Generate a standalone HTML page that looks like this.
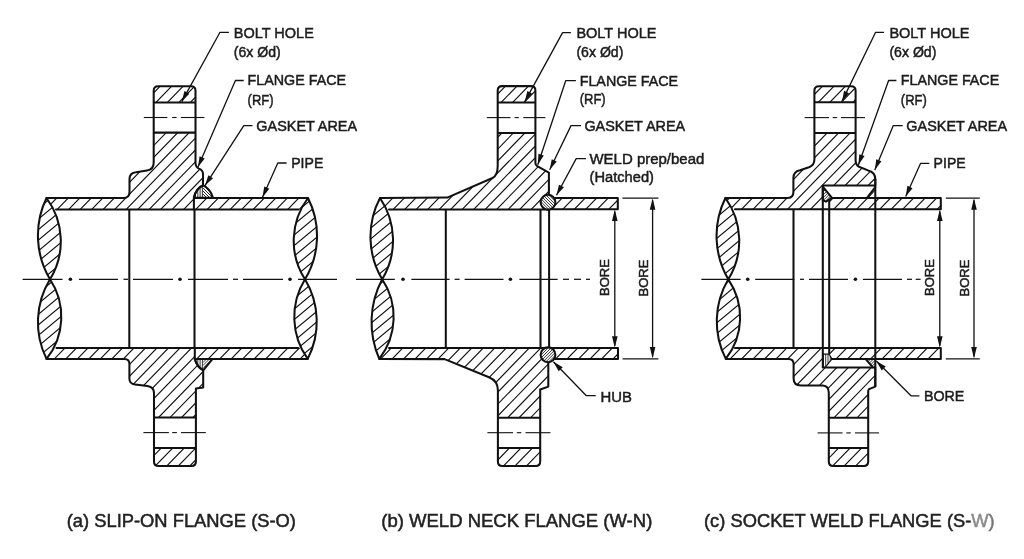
<!DOCTYPE html>
<html><head><meta charset="utf-8"><title>Flange types</title>
<style>html,body{margin:0;padding:0;background:#fff;}body{width:1024px;height:559px;overflow:hidden;font-family:"Liberation Sans",sans-serif;}svg{display:block;will-change:transform;}</style></head>
<body>
<svg width="1024" height="559" viewBox="0 0 1024 559" font-family="'Liberation Sans', sans-serif"><rect width="1024" height="559" fill="#fff"/><clipPath id="c1"><path d="M46.5 198 L123.5 198 Q129.5 198 129.5 192 L129.5 179 Q129.5 172.8 136 172.2 L147 170.6 Q153.70 169.6 153.70 162.5 L153.70 90.70 Q153.70 86.20 158.20 86.20 L191.00 86.20 Q195.50 86.20 195.50 90.70 L195.50 163 Q195.70 167.3 199 168.6 Q203 170 203 174 L203 185.5 Q196 188.5 193.9 197.5 L193.9 209.4 L46.5 209.4 Z"/></clipPath><path clip-path="url(#c1)" d="M40.7 84.2L-82.7 211.4M52.2 84.2L-71.2 211.4M63.7 84.2L-59.7 211.4M75.2 84.2L-48.2 211.4M86.7 84.2L-36.7 211.4M98.2 84.2L-25.2 211.4M109.7 84.2L-13.7 211.4M121.2 84.2L-2.2 211.4M132.7 84.2L9.3 211.4M144.2 84.2L20.8 211.4M155.7 84.2L32.3 211.4M167.2 84.2L43.8 211.4M178.7 84.2L55.3 211.4M190.2 84.2L66.8 211.4M201.7 84.2L78.3 211.4M213.2 84.2L89.8 211.4M224.7 84.2L101.3 211.4M236.2 84.2L112.8 211.4M247.7 84.2L124.3 211.4M259.2 84.2L135.8 211.4M270.7 84.2L147.3 211.4M282.2 84.2L158.8 211.4M293.7 84.2L170.3 211.4M305.2 84.2L181.8 211.4M316.7 84.2L193.3 211.4M328.2 84.2L204.8 211.4M339.7 84.2L216.3 211.4" fill="none" stroke="#111" stroke-width="1.15"/><clipPath id="c2"><path d="M46.5 358.9 L124.5 358.9 Q129.4 358.9 129.4 364 L129.4 378.5 Q129.4 384 135 384.5 L147.5 386 Q154.00 387 154.00 393 L154.00 461.40 Q154.00 465.90 158.50 465.90 L191.40 465.90 Q195.90 465.90 195.90 461.40 L195.90 388.5 L203.2 387.5 L203.2 370 Q197 367 194.8 358.9 L194.8 347.9 L46.5 347.9 Z"/></clipPath><path clip-path="url(#c2)" d="M44.0 345.9L-74.4 467.9M55.5 345.9L-62.9 467.9M67.0 345.9L-51.4 467.9M78.5 345.9L-39.9 467.9M90.0 345.9L-28.4 467.9M101.5 345.9L-16.9 467.9M113.0 345.9L-5.4 467.9M124.5 345.9L6.1 467.9M136.0 345.9L17.6 467.9M147.5 345.9L29.1 467.9M159.0 345.9L40.6 467.9M170.5 345.9L52.1 467.9M182.0 345.9L63.6 467.9M193.5 345.9L75.1 467.9M205.0 345.9L86.6 467.9M216.5 345.9L98.1 467.9M228.0 345.9L109.6 467.9M239.5 345.9L121.1 467.9M251.0 345.9L132.6 467.9M262.5 345.9L144.1 467.9M274.0 345.9L155.6 467.9M285.5 345.9L167.1 467.9M297.0 345.9L178.6 467.9M308.5 345.9L190.1 467.9M320.0 345.9L201.6 467.9M331.5 345.9L213.1 467.9" fill="none" stroke="#111" stroke-width="1.15"/><clipPath id="c3"><path d="M193.9 198 L308 198 L308 209.4 L193.9 209.4 Z"/></clipPath><path clip-path="url(#c3)" d="M185.8 196.0L170.8 211.4M197.3 196.0L182.3 211.4M208.8 196.0L193.8 211.4M220.3 196.0L205.3 211.4M231.8 196.0L216.8 211.4M243.3 196.0L228.3 211.4M254.8 196.0L239.8 211.4M266.3 196.0L251.3 211.4M277.8 196.0L262.8 211.4M289.3 196.0L274.3 211.4M300.8 196.0L285.8 211.4M312.3 196.0L297.3 211.4M323.8 196.0L308.8 211.4M335.3 196.0L320.3 211.4" fill="none" stroke="#111" stroke-width="1.15"/><clipPath id="c4"><path d="M194.8 347.9 L307.7 347.9 L307.7 358.9 L194.8 358.9 Z"/></clipPath><path clip-path="url(#c4)" d="M186.4 345.9L171.8 360.9M197.9 345.9L183.3 360.9M209.4 345.9L194.8 360.9M220.9 345.9L206.3 360.9M232.4 345.9L217.8 360.9M243.9 345.9L229.3 360.9M255.4 345.9L240.8 360.9M266.9 345.9L252.3 360.9M278.4 345.9L263.8 360.9M289.9 345.9L275.3 360.9M301.4 345.9L286.8 360.9M312.9 345.9L298.3 360.9M324.4 345.9L309.8 360.9M335.9 345.9L321.3 360.9" fill="none" stroke="#111" stroke-width="1.15"/><path d="M28.50 192.00 L46.50 192.00 L46.50 198.00 A85.88 85.88 0 0 0 50.00 279.30 A82.54 82.54 0 0 0 46.50 358.90 L46.50 364.90 L28.50 364.90 Z" fill="#fff" stroke="none"/><path d="M46.50 198.00 A85.88 85.88 0 0 0 50.00 279.30 A72.47 72.47 0 0 0 46.50 198.00 Z" fill="#fff" stroke="none"/><path d="M50.00 279.30 A82.54 82.54 0 0 0 46.50 358.90 A67.54 67.54 0 0 0 50.00 279.30 Z" fill="#fff" stroke="none"/><clipPath id="c5"><path d="M46.50 198.00 A85.88 85.88 0 0 0 50.00 279.30 A72.47 72.47 0 0 0 46.50 198.00 Z"/></clipPath><path clip-path="url(#c5)" d="M40.6 196.0L-61.8 281.3M53.3 196.0L-49.1 281.3M66.0 196.0L-36.4 281.3M78.7 196.0L-23.7 281.3M91.4 196.0L-11.0 281.3M104.1 196.0L1.7 281.3M116.8 196.0L14.4 281.3M129.5 196.0L27.1 281.3M142.2 196.0L39.8 281.3M154.9 196.0L52.5 281.3" fill="none" stroke="#111" stroke-width="1.15"/><clipPath id="c6"><path d="M50.00 279.30 A82.54 82.54 0 0 0 46.50 358.90 A67.54 67.54 0 0 0 50.00 279.30 Z"/></clipPath><path clip-path="url(#c6)" d="M44.6 277.3L-55.7 360.9M57.3 277.3L-43.0 360.9M70.0 277.3L-30.3 360.9M82.7 277.3L-17.6 360.9M95.4 277.3L-4.9 360.9M108.1 277.3L7.8 360.9M120.8 277.3L20.5 360.9M133.5 277.3L33.2 360.9M146.2 277.3L45.9 360.9M158.9 277.3L58.6 360.9" fill="none" stroke="#111" stroke-width="1.15"/><path d="M308.00 198.00 A71.26 71.26 0 0 0 305.00 279.30 A84.04 84.04 0 0 0 308.00 198.00 Z" fill="#fff" stroke="none"/><path d="M305.00 279.30 A71.83 71.83 0 0 0 307.70 358.90 A81.79 81.79 0 0 0 305.00 279.30 Z" fill="#fff" stroke="none"/><clipPath id="c7"><path d="M308.00 198.00 A71.26 71.26 0 0 0 305.00 279.30 A84.04 84.04 0 0 0 308.00 198.00 Z"/></clipPath><path clip-path="url(#c7)" d="M302.8 196.0L200.4 281.3M315.5 196.0L213.1 281.3M328.2 196.0L225.8 281.3M340.9 196.0L238.5 281.3M353.6 196.0L251.2 281.3M366.3 196.0L263.9 281.3M379.0 196.0L276.6 281.3M391.7 196.0L289.3 281.3M404.4 196.0L302.0 281.3M417.1 196.0L314.7 281.3" fill="none" stroke="#111" stroke-width="1.15"/><clipPath id="c8"><path d="M305.00 279.30 A71.83 71.83 0 0 0 307.70 358.90 A81.79 81.79 0 0 0 305.00 279.30 Z"/></clipPath><path clip-path="url(#c8)" d="M294.1 277.3L193.8 360.9M306.8 277.3L206.5 360.9M319.5 277.3L219.2 360.9M332.2 277.3L231.9 360.9M344.9 277.3L244.6 360.9M357.6 277.3L257.3 360.9M370.3 277.3L270.0 360.9M383.0 277.3L282.7 360.9M395.7 277.3L295.4 360.9M408.4 277.3L308.1 360.9M421.1 277.3L320.8 360.9" fill="none" stroke="#111" stroke-width="1.15"/><path d="M153.70 102.40 H195.50 V132.60 H153.70 Z" fill="#fff" stroke="none"/><path d="M153.70 102.40 L153.70 90.70 Q153.70 86.20 158.20 86.20 L191.00 86.20 Q195.50 86.20 195.50 90.70 L195.50 102.40 Z" fill="#fff" stroke="none"/><clipPath id="c9"><path d="M153.70 102.40 L153.70 90.70 Q153.70 86.20 158.20 86.20 L191.00 86.20 Q195.50 86.20 195.50 90.70 L195.50 102.40 Z"/></clipPath><path clip-path="url(#c9)" d="M150.6 84.2L131.0 104.4M162.1 84.2L142.5 104.4M173.6 84.2L154.0 104.4M185.1 84.2L165.5 104.4M196.6 84.2L177.0 104.4M208.1 84.2L188.5 104.4M219.6 84.2L200.0 104.4" fill="none" stroke="#111" stroke-width="1.15"/><path d="M154.00 417.50 H195.90 V447.90 H154.00 Z" fill="#fff" stroke="none"/><path d="M154.00 447.90 L154.00 461.40 Q154.00 465.90 158.50 465.90 L191.40 465.90 Q195.90 465.90 195.90 461.40 L195.90 447.90 Z" fill="#fff" stroke="none"/><clipPath id="c10"><path d="M154.00 447.90 L154.00 461.40 Q154.00 465.90 158.50 465.90 L191.40 465.90 Q195.90 465.90 195.90 461.40 L195.90 447.90 Z"/></clipPath><path clip-path="url(#c10)" d="M140.3 445.9L118.9 467.9M151.8 445.9L130.4 467.9M163.3 445.9L141.9 467.9M174.8 445.9L153.4 467.9M186.3 445.9L164.9 467.9M197.8 445.9L176.4 467.9M209.3 445.9L187.9 467.9M220.8 445.9L199.4 467.9" fill="none" stroke="#111" stroke-width="1.15"/><path d="M193.9 197.8 Q196 188.5 203 185.3 Q210 188.5 213 197.8 Z" fill="#fff" stroke="none"/><path d="M194.8 358.9 Q197 367 203.2 370.3 L212.6 358.9 Z" fill="#fff" stroke="none"/><clipPath id="c11"><path d="M193.9 197.8 Q196 188.5 203 185.3 L203 197.8 Z"/></clipPath><path clip-path="url(#c11)" d="M181.7 183.3L181.7 199.8M184.0 183.3L184.0 199.8M186.3 183.3L186.3 199.8M188.6 183.3L188.6 199.8M190.9 183.3L190.9 199.8M193.2 183.3L193.2 199.8M195.5 183.3L195.5 199.8M197.8 183.3L197.8 199.8M200.1 183.3L200.1 199.8M202.4 183.3L202.4 199.8M204.7 183.3L204.7 199.8M207.0 183.3L207.0 199.8M209.3 183.3L209.3 199.8M211.6 183.3L211.6 199.8M213.9 183.3L213.9 199.8M216.2 183.3L216.2 199.8" fill="none" stroke="#111" stroke-width="0.85"/><clipPath id="c12"><path d="M203 185.3 Q210 188.5 213 197.8 L203 197.8 Z"/></clipPath><path clip-path="url(#c12)" d="M174.3 183.3L190.8 199.8M177.3 183.3L193.8 199.8M180.3 183.3L196.8 199.8M183.3 183.3L199.8 199.8M186.3 183.3L202.8 199.8M189.3 183.3L205.8 199.8M192.3 183.3L208.8 199.8M195.3 183.3L211.8 199.8M198.3 183.3L214.8 199.8M201.3 183.3L217.8 199.8M204.3 183.3L220.8 199.8M207.3 183.3L223.8 199.8M210.3 183.3L226.8 199.8M213.3 183.3L229.8 199.8M216.3 183.3L232.8 199.8M219.3 183.3L235.8 199.8M222.3 183.3L238.8 199.8M225.3 183.3L241.8 199.8" fill="none" stroke="#111" stroke-width="0.90"/><clipPath id="c13"><path d="M194.8 358.9 Q197 367 203.2 370.3 L203.2 358.9 Z"/></clipPath><path clip-path="url(#c13)" d="M181.7 356.9L181.7 372.3M184.0 356.9L184.0 372.3M186.3 356.9L186.3 372.3M188.6 356.9L188.6 372.3M190.9 356.9L190.9 372.3M193.2 356.9L193.2 372.3M195.5 356.9L195.5 372.3M197.8 356.9L197.8 372.3M200.1 356.9L200.1 372.3M202.4 356.9L202.4 372.3M204.7 356.9L204.7 372.3M207.0 356.9L207.0 372.3M209.3 356.9L209.3 372.3M211.6 356.9L211.6 372.3M213.9 356.9L213.9 372.3M216.2 356.9L216.2 372.3" fill="none" stroke="#111" stroke-width="0.85"/><clipPath id="c14"><path d="M203.2 370.3 L212.6 358.9 L203.2 358.9 Z"/></clipPath><path clip-path="url(#c14)" d="M191.2 356.9L175.8 372.3M194.1 356.9L178.7 372.3M197.0 356.9L181.6 372.3M199.9 356.9L184.5 372.3M202.8 356.9L187.4 372.3M205.7 356.9L190.3 372.3M208.6 356.9L193.2 372.3M211.5 356.9L196.1 372.3M214.4 356.9L199.0 372.3M217.3 356.9L201.9 372.3M220.2 356.9L204.8 372.3M223.1 356.9L207.7 372.3M226.0 356.9L210.6 372.3M228.9 356.9L213.5 372.3M231.8 356.9L216.4 372.3M234.7 356.9L219.3 372.3M237.6 356.9L222.2 372.3M240.5 356.9L225.1 372.3" fill="none" stroke="#111" stroke-width="0.85"/><path d="M46.5 198 L123.5 198 Q129.5 198 129.5 192 L129.5 179 Q129.5 172.8 136 172.2 L147 170.6 Q153.70 169.6 153.70 162.5 L153.70 90.70 Q153.70 86.20 158.20 86.20 L191.00 86.20 Q195.50 86.20 195.50 90.70 L195.50 163 Q195.70 167.3 199 168.6 Q203 170 203 174 L203 185.5 Q196 188.5 193.9 197.5 L193.9 209.4 L56 209.4" fill="none" stroke="#111" stroke-width="2.05" stroke-linejoin="round" stroke-linecap="round" /><path d="M46.5 358.9 L124.5 358.9 Q129.4 358.9 129.4 364 L129.4 378.5 Q129.4 384 135 384.5 L147.5 386 Q154.00 387 154.00 393 L154.00 461.40 Q154.00 465.90 158.50 465.90 L191.40 465.90 Q195.90 465.90 195.90 461.40 L195.90 388.5 L203.2 387.5 L203.2 370 Q197 367 194.8 358.9 L194.8 347.9 L56.5 347.9" fill="none" stroke="#111" stroke-width="2.05" stroke-linejoin="round" stroke-linecap="round" /><path d="M193.9 198 L308 198" fill="none" stroke="#111" stroke-width="2.05" stroke-linejoin="round" stroke-linecap="round" /><path d="M193.9 209.4 L298.5 209.4" fill="none" stroke="#111" stroke-width="2.05" stroke-linejoin="round" stroke-linecap="round" /><path d="M194.8 358.9 L307.7 358.9" fill="none" stroke="#111" stroke-width="2.05" stroke-linejoin="round" stroke-linecap="round" /><path d="M194.8 347.9 L298.5 347.9" fill="none" stroke="#111" stroke-width="2.05" stroke-linejoin="round" stroke-linecap="round" /><path d="M193.9 197.8 Q196 188.5 203 185.3 Q210 188.5 213 197.8 Z" fill="none" stroke="#111" stroke-width="2.05" stroke-linejoin="round" stroke-linecap="round" /><path d="M194.8 358.9 Q197 367 203.2 370.3 L212.6 358.9 Z" fill="none" stroke="#111" stroke-width="2.05" stroke-linejoin="round" stroke-linecap="round" /><path d="M46.50 198.00 A85.88 85.88 0 0 0 50.00 279.30 A72.47 72.47 0 0 0 46.50 198.00 Z" fill="none" stroke="#111" stroke-width="2.05" stroke-linejoin="round" stroke-linecap="round" /><path d="M50.00 279.30 A82.54 82.54 0 0 0 46.50 358.90 A67.54 67.54 0 0 0 50.00 279.30 Z" fill="none" stroke="#111" stroke-width="2.05" stroke-linejoin="round" stroke-linecap="round" /><path d="M308.00 198.00 A71.26 71.26 0 0 0 305.00 279.30 A84.04 84.04 0 0 0 308.00 198.00 Z" fill="none" stroke="#111" stroke-width="2.05" stroke-linejoin="round" stroke-linecap="round" /><path d="M305.00 279.30 A71.83 71.83 0 0 0 307.70 358.90 A81.79 81.79 0 0 0 305.00 279.30 Z" fill="none" stroke="#111" stroke-width="2.05" stroke-linejoin="round" stroke-linecap="round" /><line x1="153.70" y1="102.40" x2="195.50" y2="102.40" stroke="#111" stroke-width="2.05" /><line x1="153.70" y1="132.60" x2="195.50" y2="132.60" stroke="#111" stroke-width="2.05" /><line x1="154.00" y1="417.50" x2="195.90" y2="417.50" stroke="#111" stroke-width="2.05" /><line x1="154.00" y1="447.90" x2="195.90" y2="447.90" stroke="#111" stroke-width="2.05" /><line x1="129.30" y1="209.40" x2="129.30" y2="347.90" stroke="#111" stroke-width="2.05" /><line x1="194.50" y1="209.40" x2="194.50" y2="347.90" stroke="#111" stroke-width="2.05" /><line x1="22.60" y1="279.30" x2="62.50" y2="279.30" stroke="#111" stroke-width="1.25" /><line x1="79.00" y1="279.30" x2="118.00" y2="279.30" stroke="#111" stroke-width="1.25" /><line x1="123.50" y1="279.30" x2="128.00" y2="279.30" stroke="#111" stroke-width="1.25" /><line x1="133.00" y1="279.30" x2="173.00" y2="279.30" stroke="#111" stroke-width="1.25" /><line x1="188.00" y1="279.30" x2="228.00" y2="279.30" stroke="#111" stroke-width="1.25" /><line x1="233.00" y1="279.30" x2="238.00" y2="279.30" stroke="#111" stroke-width="1.25" /><line x1="243.00" y1="279.30" x2="283.00" y2="279.30" stroke="#111" stroke-width="1.25" /><line x1="298.00" y1="279.30" x2="337.00" y2="279.30" stroke="#111" stroke-width="1.25" /><circle cx="70.40" cy="279.30" r="1.8" fill="#111"/><circle cx="180.00" cy="279.30" r="1.8" fill="#111"/><circle cx="290.00" cy="279.30" r="1.8" fill="#111"/><line x1="143.80" y1="117.50" x2="167.40" y2="117.50" stroke="#111" stroke-width="1.10" /><line x1="172.20" y1="117.50" x2="176.60" y2="117.50" stroke="#111" stroke-width="1.10" /><line x1="180.80" y1="117.50" x2="204.40" y2="117.50" stroke="#111" stroke-width="1.10" /><line x1="143.40" y1="432.60" x2="168.90" y2="432.60" stroke="#111" stroke-width="1.10" /><line x1="172.20" y1="432.60" x2="176.90" y2="432.60" stroke="#111" stroke-width="1.10" /><line x1="181.00" y1="432.60" x2="205.80" y2="432.60" stroke="#111" stroke-width="1.10" /><text x="233.80" y="38.10" font-size="15.20" fill="#1c1c1c" stroke="#1c1c1c" stroke-width="0.5"  textLength="80.0" lengthAdjust="spacingAndGlyphs">BOLT HOLE</text><text x="233.80" y="57.10" font-size="15.20" fill="#1c1c1c" stroke="#1c1c1c" stroke-width="0.5"  textLength="47.0" lengthAdjust="spacingAndGlyphs">(6x &#216;d)</text><text x="247.60" y="85.40" font-size="15.20" fill="#1c1c1c" stroke="#1c1c1c" stroke-width="0.5"  textLength="98.4" lengthAdjust="spacingAndGlyphs">FLANGE FACE</text><text x="247.60" y="104.50" font-size="15.20" fill="#1c1c1c" stroke="#1c1c1c" stroke-width="0.5"  textLength="26.0" lengthAdjust="spacingAndGlyphs">(RF)</text><text x="256.30" y="130.60" font-size="15.20" fill="#1c1c1c" stroke="#1c1c1c" stroke-width="0.5"  textLength="100.8" lengthAdjust="spacingAndGlyphs">GASKET AREA</text><text x="291.20" y="168.20" font-size="15.20" fill="#1c1c1c" stroke="#1c1c1c" stroke-width="0.5"  textLength="32.1" lengthAdjust="spacingAndGlyphs">PIPE</text><path d="M228.90 32.30 L220.00 32.30 L181.80 101.60" fill="none" stroke="#111" stroke-width="1.30" stroke-linejoin="round"/><path d="M181.80 101.60 L184.42 91.05 L189.32 93.76 Z" fill="#111"/><path d="M243.70 80.50 L235.40 80.50 L198.00 167.00" fill="none" stroke="#111" stroke-width="1.30" stroke-linejoin="round"/><path d="M198.00 167.00 L199.60 156.25 L204.74 158.47 Z" fill="#111"/><path d="M252.50 125.60 L243.80 125.60 L205.00 185.60" fill="none" stroke="#111" stroke-width="1.30" stroke-linejoin="round"/><path d="M205.00 185.60 L208.35 175.26 L213.05 178.30 Z" fill="#111"/><path d="M286.60 163.00 L277.80 163.00 L262.50 197.20" fill="none" stroke="#111" stroke-width="1.30" stroke-linejoin="round"/><path d="M262.50 197.20 L264.23 186.47 L269.34 188.76 Z" fill="#111"/><text x="66.70" y="527.20" font-size="18.40" fill="#222" stroke="#222" stroke-width="0.5" textLength="229.3" lengthAdjust="spacingAndGlyphs">(a) SLIP-ON FLANGE (S-O)</text><clipPath id="c15"><path d="M380 198 L447.3 197.6 L492.5 178 Q497.70 175.5 497.70 166 L497.70 90.60 Q497.70 86.10 502.20 86.10 L530.90 86.10 Q535.40 86.10 535.40 90.60 L535.40 163 Q535.40 165.2 537.2 166.2 L548.9 172.6 L548.9 209.4 L380 209.4 Z"/></clipPath><path clip-path="url(#c15)" d="M376.8 84.1L253.3 211.4M388.3 84.1L264.8 211.4M399.8 84.1L276.3 211.4M411.3 84.1L287.8 211.4M422.8 84.1L299.3 211.4M434.3 84.1L310.8 211.4M445.8 84.1L322.3 211.4M457.3 84.1L333.8 211.4M468.8 84.1L345.3 211.4M480.3 84.1L356.8 211.4M491.8 84.1L368.3 211.4M503.3 84.1L379.8 211.4M514.8 84.1L391.3 211.4M526.3 84.1L402.8 211.4M537.8 84.1L414.3 211.4M549.3 84.1L425.8 211.4M560.8 84.1L437.3 211.4M572.3 84.1L448.8 211.4M583.8 84.1L460.3 211.4M595.3 84.1L471.8 211.4M606.8 84.1L483.3 211.4M618.3 84.1L494.8 211.4M629.8 84.1L506.3 211.4M641.3 84.1L517.8 211.4M652.8 84.1L529.3 211.4M664.3 84.1L540.8 211.4M675.8 84.1L552.3 211.4" fill="none" stroke="#111" stroke-width="1.15"/><clipPath id="c16"><path d="M379.3 358.9 L444.6 359.1 L489 377.3 Q497.90 381 497.90 390 L497.90 461.40 Q497.90 465.90 502.40 465.90 L535.70 465.90 Q540.20 465.90 540.20 461.40 L540.20 389.5 L548.3 386.6 L548.3 347.9 L379.3 347.9 Z"/></clipPath><path clip-path="url(#c16)" d="M370.3 345.9L251.9 467.9M381.8 345.9L263.4 467.9M393.3 345.9L274.9 467.9M404.8 345.9L286.4 467.9M416.3 345.9L297.9 467.9M427.8 345.9L309.4 467.9M439.3 345.9L320.9 467.9M450.8 345.9L332.4 467.9M462.3 345.9L343.9 467.9M473.8 345.9L355.4 467.9M485.3 345.9L366.9 467.9M496.8 345.9L378.4 467.9M508.3 345.9L389.9 467.9M519.8 345.9L401.4 467.9M531.3 345.9L412.9 467.9M542.8 345.9L424.4 467.9M554.3 345.9L435.9 467.9M565.8 345.9L447.4 467.9M577.3 345.9L458.9 467.9M588.8 345.9L470.4 467.9M600.3 345.9L481.9 467.9M611.8 345.9L493.4 467.9M623.3 345.9L504.9 467.9M634.8 345.9L516.4 467.9M646.3 345.9L527.9 467.9M657.8 345.9L539.4 467.9M669.3 345.9L550.9 467.9" fill="none" stroke="#111" stroke-width="1.15"/><clipPath id="c17"><path d="M548 197.9 H617.8 V209.3 H548 Z"/></clipPath><path clip-path="url(#c17)" d="M541.3 195.9L526.3 211.3M552.8 195.9L537.8 211.3M564.3 195.9L549.3 211.3M575.8 195.9L560.8 211.3M587.3 195.9L572.3 211.3M598.8 195.9L583.8 211.3M610.3 195.9L595.3 211.3M621.8 195.9L606.8 211.3M633.3 195.9L618.3 211.3M644.8 195.9L629.8 211.3" fill="none" stroke="#111" stroke-width="1.15"/><clipPath id="c18"><path d="M548 347.9 H618 V358.9 H548 Z"/></clipPath><path clip-path="url(#c18)" d="M545.3 345.9L530.7 360.9M556.8 345.9L542.2 360.9M568.3 345.9L553.7 360.9M579.8 345.9L565.2 360.9M591.3 345.9L576.7 360.9M602.8 345.9L588.2 360.9M614.3 345.9L599.7 360.9M625.8 345.9L611.2 360.9M637.3 345.9L622.7 360.9" fill="none" stroke="#111" stroke-width="1.15"/><path d="M362.00 192.00 L380.00 192.00 L380.00 198.00 A83.30 83.30 0 0 0 382.20 279.30 A91.25 91.25 0 0 0 379.30 358.90 L379.30 364.90 L362.00 364.90 Z" fill="#fff" stroke="none"/><path d="M380.00 198.00 A83.30 83.30 0 0 0 382.20 279.30 A75.43 75.43 0 0 0 380.00 198.00 Z" fill="#fff" stroke="none"/><path d="M382.20 279.30 A91.25 91.25 0 0 0 379.30 358.90 A68.14 68.14 0 0 0 382.20 279.30 Z" fill="#fff" stroke="none"/><clipPath id="c19"><path d="M380.00 198.00 A83.30 83.30 0 0 0 382.20 279.30 A75.43 75.43 0 0 0 380.00 198.00 Z"/></clipPath><path clip-path="url(#c19)" d="M371.3 196.0L268.9 281.3M384.0 196.0L281.6 281.3M396.7 196.0L294.3 281.3M409.4 196.0L307.0 281.3M422.1 196.0L319.7 281.3M434.8 196.0L332.4 281.3M447.5 196.0L345.1 281.3M460.2 196.0L357.8 281.3M472.9 196.0L370.5 281.3M485.6 196.0L383.2 281.3M498.3 196.0L395.9 281.3" fill="none" stroke="#111" stroke-width="1.15"/><clipPath id="c20"><path d="M382.20 279.30 A91.25 91.25 0 0 0 379.30 358.90 A68.14 68.14 0 0 0 382.20 279.30 Z"/></clipPath><path clip-path="url(#c20)" d="M375.3 277.3L275.0 360.9M388.0 277.3L287.7 360.9M400.7 277.3L300.4 360.9M413.4 277.3L313.1 360.9M426.1 277.3L325.8 360.9M438.8 277.3L338.5 360.9M451.5 277.3L351.2 360.9M464.2 277.3L363.9 360.9M476.9 277.3L376.6 360.9M489.6 277.3L389.3 360.9" fill="none" stroke="#111" stroke-width="1.15"/><path d="M497.70 102.50 H535.40 V132.90 H497.70 Z" fill="#fff" stroke="none"/><path d="M497.70 102.50 L497.70 90.60 Q497.70 86.10 502.20 86.10 L530.90 86.10 Q535.40 86.10 535.40 90.60 L535.40 102.50 Z" fill="#fff" stroke="none"/><clipPath id="c21"><path d="M497.70 102.50 L497.70 90.60 Q497.70 86.10 502.20 86.10 L530.90 86.10 Q535.40 86.10 535.40 90.60 L535.40 102.50 Z"/></clipPath><path clip-path="url(#c21)" d="M484.4 84.1L464.6 104.5M495.9 84.1L476.1 104.5M507.4 84.1L487.6 104.5M518.9 84.1L499.1 104.5M530.4 84.1L510.6 104.5M541.9 84.1L522.1 104.5M553.4 84.1L533.6 104.5M564.9 84.1L545.1 104.5" fill="none" stroke="#111" stroke-width="1.15"/><path d="M497.90 417.80 H540.20 V447.90 H497.90 Z" fill="#fff" stroke="none"/><path d="M497.90 447.90 L497.90 461.40 Q497.90 465.90 502.40 465.90 L535.70 465.90 Q540.20 465.90 540.20 461.40 L540.20 447.90 Z" fill="#fff" stroke="none"/><clipPath id="c22"><path d="M497.90 447.90 L497.90 461.40 Q497.90 465.90 502.40 465.90 L535.70 465.90 Q540.20 465.90 540.20 461.40 L540.20 447.90 Z"/></clipPath><path clip-path="url(#c22)" d="M488.5 445.9L467.1 467.9M500.0 445.9L478.6 467.9M511.5 445.9L490.1 467.9M523.0 445.9L501.6 467.9M534.5 445.9L513.1 467.9M546.0 445.9L524.6 467.9M557.5 445.9L536.1 467.9M569.0 445.9L547.6 467.9" fill="none" stroke="#111" stroke-width="1.15"/><path d="M380 198 L447.3 197.6 L492.5 178 Q497.70 175.5 497.70 166 L497.70 90.60 Q497.70 86.10 502.20 86.10 L530.90 86.10 Q535.40 86.10 535.40 90.60 L535.40 163 Q535.40 165.2 537.2 166.2 L548.9 172.6 L548.9 209.4 L389 209.4" fill="none" stroke="#111" stroke-width="2.05" stroke-linejoin="round" stroke-linecap="round" /><path d="M379.3 358.9 L444.6 359.1 L489 377.3 Q497.90 381 497.90 390 L497.90 461.40 Q497.90 465.90 502.40 465.90 L535.70 465.90 Q540.20 465.90 540.20 461.40 L540.20 389.5 L548.3 386.6 L548.3 347.9 L389 347.9" fill="none" stroke="#111" stroke-width="2.05" stroke-linejoin="round" stroke-linecap="round" /><path d="M548 197.9 H617.8 V209.3 H548" fill="none" stroke="#111" stroke-width="2.05" stroke-linejoin="round" stroke-linecap="round" /><path d="M548 347.9 H618 V358.9 H548" fill="none" stroke="#111" stroke-width="2.05" stroke-linejoin="round" stroke-linecap="round" /><path d="M380.00 198.00 A83.30 83.30 0 0 0 382.20 279.30 A75.43 75.43 0 0 0 380.00 198.00 Z" fill="none" stroke="#111" stroke-width="2.05" stroke-linejoin="round" stroke-linecap="round" /><path d="M382.20 279.30 A91.25 91.25 0 0 0 379.30 358.90 A68.14 68.14 0 0 0 382.20 279.30 Z" fill="none" stroke="#111" stroke-width="2.05" stroke-linejoin="round" stroke-linecap="round" /><line x1="497.70" y1="102.50" x2="535.40" y2="102.50" stroke="#111" stroke-width="2.05" /><line x1="497.70" y1="132.90" x2="535.40" y2="132.90" stroke="#111" stroke-width="2.05" /><line x1="497.90" y1="417.80" x2="540.20" y2="417.80" stroke="#111" stroke-width="2.05" /><line x1="497.90" y1="447.90" x2="540.20" y2="447.90" stroke="#111" stroke-width="2.05" /><line x1="445.80" y1="209.40" x2="445.80" y2="347.90" stroke="#111" stroke-width="2.05" /><line x1="540.50" y1="209.40" x2="540.50" y2="347.90" stroke="#111" stroke-width="2.05" /><line x1="549.10" y1="209.40" x2="549.10" y2="347.90" stroke="#111" stroke-width="2.05" /><path d="M540.60 202.20 A7.40 7.40 0 1 0 555.40 202.20 A7.40 7.40 0 1 0 540.60 202.20 Z" fill="#fff" stroke="none"/><clipPath id="c23"><path d="M540.60 202.20 A7.40 7.40 0 1 0 555.40 202.20 A7.40 7.40 0 1 0 540.60 202.20 Z"/></clipPath><path clip-path="url(#c23)" d="M524.4 193.8L541.2 210.6M527.3 193.8L544.1 210.6M530.2 193.8L547.0 210.6M533.1 193.8L549.9 210.6M536.0 193.8L552.8 210.6M538.9 193.8L555.7 210.6M541.8 193.8L558.6 210.6M544.7 193.8L561.5 210.6M547.6 193.8L564.4 210.6M550.5 193.8L567.3 210.6M553.4 193.8L570.2 210.6M556.3 193.8L573.1 210.6" fill="none" stroke="#111" stroke-width="0.85"/><path d="M540.60 202.20 A7.40 7.40 0 1 0 555.40 202.20 A7.40 7.40 0 1 0 540.60 202.20 Z" fill="none" stroke="#111" stroke-width="2.05" stroke-linejoin="round" stroke-linecap="round" /><path d="M540.60 354.80 A7.40 7.40 0 1 0 555.40 354.80 A7.40 7.40 0 1 0 540.60 354.80 Z" fill="#fff" stroke="none"/><clipPath id="c24"><path d="M540.60 354.80 A7.40 7.40 0 1 0 555.40 354.80 A7.40 7.40 0 1 0 540.60 354.80 Z"/></clipPath><path clip-path="url(#c24)" d="M541.0 346.4L524.2 363.2M543.9 346.4L527.1 363.2M546.8 346.4L530.0 363.2M549.7 346.4L532.9 363.2M552.6 346.4L535.8 363.2M555.5 346.4L538.7 363.2M558.4 346.4L541.6 363.2M561.3 346.4L544.5 363.2M564.2 346.4L547.4 363.2M567.1 346.4L550.3 363.2M570.0 346.4L553.2 363.2M572.9 346.4L556.1 363.2" fill="none" stroke="#111" stroke-width="0.85"/><path d="M540.60 354.80 A7.40 7.40 0 1 0 555.40 354.80 A7.40 7.40 0 1 0 540.60 354.80 Z" fill="none" stroke="#111" stroke-width="2.05" stroke-linejoin="round" stroke-linecap="round" /><line x1="356.00" y1="279.30" x2="394.80" y2="279.30" stroke="#111" stroke-width="1.25" /><line x1="411.40" y1="279.30" x2="449.60" y2="279.30" stroke="#111" stroke-width="1.25" /><line x1="454.60" y1="279.30" x2="459.60" y2="279.30" stroke="#111" stroke-width="1.25" /><line x1="464.60" y1="279.30" x2="503.50" y2="279.30" stroke="#111" stroke-width="1.25" /><line x1="519.40" y1="279.30" x2="557.60" y2="279.30" stroke="#111" stroke-width="1.25" /><line x1="563.00" y1="279.30" x2="569.00" y2="279.30" stroke="#111" stroke-width="1.25" /><line x1="574.00" y1="279.30" x2="581.00" y2="279.30" stroke="#111" stroke-width="1.25" /><line x1="586.00" y1="279.30" x2="590.00" y2="279.30" stroke="#111" stroke-width="1.25" /><circle cx="403.00" cy="279.30" r="1.8" fill="#111"/><circle cx="510.40" cy="279.30" r="1.8" fill="#111"/><line x1="486.80" y1="117.60" x2="510.50" y2="117.60" stroke="#111" stroke-width="1.10" /><line x1="514.60" y1="117.60" x2="518.80" y2="117.60" stroke="#111" stroke-width="1.10" /><line x1="523.30" y1="117.60" x2="545.40" y2="117.60" stroke="#111" stroke-width="1.10" /><line x1="487.40" y1="432.70" x2="513.00" y2="432.70" stroke="#111" stroke-width="1.10" /><line x1="516.80" y1="432.70" x2="521.30" y2="432.70" stroke="#111" stroke-width="1.10" /><line x1="525.50" y1="432.70" x2="550.50" y2="432.70" stroke="#111" stroke-width="1.10" /><line x1="622.40" y1="198.20" x2="658.40" y2="198.20" stroke="#111" stroke-width="1.30" /><line x1="622.60" y1="358.80" x2="658.40" y2="358.80" stroke="#111" stroke-width="1.30" /><line x1="614.80" y1="211.60" x2="614.80" y2="345.70" stroke="#111" stroke-width="1.30" /><path d="M614.80 209.60 L617.60 221.10 L612.00 221.10 Z" fill="#111"/><path d="M614.80 347.70 L612.00 336.20 L617.60 336.20 Z" fill="#111"/><line x1="652.60" y1="200.30" x2="652.60" y2="356.60" stroke="#111" stroke-width="1.30" /><path d="M652.60 198.30 L655.40 209.80 L649.80 209.80 Z" fill="#111"/><path d="M652.60 358.60 L649.80 347.10 L655.40 347.10 Z" fill="#111"/><text x="0.00" y="0.00" font-size="13.60" fill="#1c1c1c" stroke="#1c1c1c" stroke-width="0.5" textLength="36.9" lengthAdjust="spacingAndGlyphs" transform="translate(609.4 296) rotate(-90)">BORE</text><text x="0.00" y="0.00" font-size="13.60" fill="#1c1c1c" stroke="#1c1c1c" stroke-width="0.5" textLength="36.9" lengthAdjust="spacingAndGlyphs" transform="translate(648.0 296.5) rotate(-90)">BORE</text><text x="576.40" y="38.10" font-size="15.20" fill="#1c1c1c" stroke="#1c1c1c" stroke-width="0.5"  textLength="80.0" lengthAdjust="spacingAndGlyphs">BOLT HOLE</text><text x="576.40" y="57.00" font-size="15.20" fill="#1c1c1c" stroke="#1c1c1c" stroke-width="0.5"  textLength="47.0" lengthAdjust="spacingAndGlyphs">(6x &#216;d)</text><text x="579.70" y="85.50" font-size="15.20" fill="#1c1c1c" stroke="#1c1c1c" stroke-width="0.5"  textLength="98.4" lengthAdjust="spacingAndGlyphs">FLANGE FACE</text><text x="579.70" y="104.40" font-size="15.20" fill="#1c1c1c" stroke="#1c1c1c" stroke-width="0.5"  textLength="26.0" lengthAdjust="spacingAndGlyphs">(RF)</text><text x="584.40" y="130.70" font-size="15.20" fill="#1c1c1c" stroke="#1c1c1c" stroke-width="0.5"  textLength="100.8" lengthAdjust="spacingAndGlyphs">GASKET AREA</text><text x="589.50" y="163.60" font-size="15.20" fill="#1c1c1c" stroke="#1c1c1c" stroke-width="0.5" textLength="114.8" lengthAdjust="spacingAndGlyphs">WELD prep/bead</text><text x="589.50" y="181.70" font-size="15.20" fill="#1c1c1c" stroke="#1c1c1c" stroke-width="0.5" textLength="64.5" lengthAdjust="spacingAndGlyphs">(Hatched)</text><text x="600.60" y="401.50" font-size="15.20" fill="#1c1c1c" stroke="#1c1c1c" stroke-width="0.5"  textLength="31.4" lengthAdjust="spacingAndGlyphs">HUB</text><path d="M570.90 32.60 L562.60 32.60 L524.80 101.60" fill="none" stroke="#111" stroke-width="1.30" stroke-linejoin="round"/><path d="M524.80 101.60 L527.39 91.05 L532.30 93.74 Z" fill="#111"/><path d="M575.90 80.70 L565.70 80.70 L537.80 164.70" fill="none" stroke="#111" stroke-width="1.30" stroke-linejoin="round"/><path d="M537.80 164.70 L538.45 153.85 L543.77 155.62 Z" fill="#111"/><path d="M581.00 125.60 L571.00 125.60 L549.70 169.80" fill="none" stroke="#111" stroke-width="1.30" stroke-linejoin="round"/><path d="M549.70 169.80 L551.74 159.13 L556.78 161.56 Z" fill="#111"/><path d="M586.00 158.60 L576.20 158.60 L556.50 195.30" fill="none" stroke="#111" stroke-width="1.30" stroke-linejoin="round"/><path d="M556.50 195.30 L559.00 184.72 L563.93 187.37 Z" fill="#111"/><path d="M595.70 395.70 L586.40 395.70 L553.40 361.70" fill="none" stroke="#111" stroke-width="1.30" stroke-linejoin="round"/><path d="M553.40 361.70 L562.72 367.28 L558.70 371.18 Z" fill="#111"/><text x="381.30" y="527.30" font-size="18.40" fill="#222" stroke="#222" stroke-width="0.5" textLength="271" lengthAdjust="spacingAndGlyphs">(b) WELD NECK FLANGE (W-N)</text><clipPath id="c25"><path d="M725.4 198 L788 198 Q793.4 197.6 793.4 192 L793.4 178 Q793.4 171.6 800 170.3 L809 167.2 Q814.40 165 814.40 159.4 L814.40 90.70 Q814.40 86.20 818.90 86.20 L851.10 86.20 Q855.60 86.20 855.60 90.70 L855.60 161 Q855.80 165 859 166.8 L868 170.4 Q875.3 172.2 875.3 179 L875.3 185.4 L822.7 185.4 L822.7 209.2 L725.4 209.2 Z"/></clipPath><path clip-path="url(#c25)" d="M713.4 84.2L590.2 211.2M724.9 84.2L601.7 211.2M736.4 84.2L613.2 211.2M747.9 84.2L624.7 211.2M759.4 84.2L636.2 211.2M770.9 84.2L647.7 211.2M782.4 84.2L659.2 211.2M793.9 84.2L670.7 211.2M805.4 84.2L682.2 211.2M816.9 84.2L693.7 211.2M828.4 84.2L705.2 211.2M839.9 84.2L716.7 211.2M851.4 84.2L728.2 211.2M862.9 84.2L739.7 211.2M874.4 84.2L751.2 211.2M885.9 84.2L762.7 211.2M897.4 84.2L774.2 211.2M908.9 84.2L785.7 211.2M920.4 84.2L797.2 211.2M931.9 84.2L808.7 211.2M943.4 84.2L820.2 211.2M954.9 84.2L831.7 211.2M966.4 84.2L843.2 211.2M977.9 84.2L854.7 211.2M989.4 84.2L866.2 211.2M1000.9 84.2L877.7 211.2M1012.4 84.2L889.2 211.2" fill="none" stroke="#111" stroke-width="1.15"/><clipPath id="c26"><path d="M725.8 358.9 L788.5 358.9 Q793.6 358.9 793.6 364 L793.6 378.5 Q793.6 385.5 801 385.5 L822.8 385.5 Q828.80 385.8 828.80 393 L828.80 461.40 Q828.80 465.90 833.30 465.90 L863.70 465.90 Q868.20 465.90 868.20 461.40 L868.20 391 Q868.20 389.2 870.3 388.6 L875.3 386.6 L875.3 367.5 L822.8 367.5 L822.8 347.9 L725.8 347.9 Z"/></clipPath><path clip-path="url(#c26)" d="M719.8 345.9L601.4 467.9M731.3 345.9L612.9 467.9M742.8 345.9L624.4 467.9M754.3 345.9L635.9 467.9M765.8 345.9L647.4 467.9M777.3 345.9L658.9 467.9M788.8 345.9L670.4 467.9M800.3 345.9L681.9 467.9M811.8 345.9L693.4 467.9M823.3 345.9L704.9 467.9M834.8 345.9L716.4 467.9M846.3 345.9L727.9 467.9M857.8 345.9L739.4 467.9M869.3 345.9L750.9 467.9M880.8 345.9L762.4 467.9M892.3 345.9L773.9 467.9M903.8 345.9L785.4 467.9M915.3 345.9L796.9 467.9M926.8 345.9L808.4 467.9M938.3 345.9L819.9 467.9M949.8 345.9L831.4 467.9M961.3 345.9L842.9 467.9M972.8 345.9L854.4 467.9M984.3 345.9L865.9 467.9M995.8 345.9L877.4 467.9M1007.3 345.9L888.9 467.9" fill="none" stroke="#111" stroke-width="1.15"/><clipPath id="c27"><path d="M829.3 197.9 H940.8 V209.2 H829.3 Z"/></clipPath><path clip-path="url(#c27)" d="M823.7 195.9L808.8 211.2M835.2 195.9L820.3 211.2M846.7 195.9L831.8 211.2M858.2 195.9L843.3 211.2M869.7 195.9L854.8 211.2M881.2 195.9L866.3 211.2M892.7 195.9L877.8 211.2M904.2 195.9L889.3 211.2M915.7 195.9L900.8 211.2M927.2 195.9L912.3 211.2M938.7 195.9L923.8 211.2M950.2 195.9L935.3 211.2M961.7 195.9L946.8 211.2" fill="none" stroke="#111" stroke-width="1.15"/><clipPath id="c28"><path d="M829.1 347.9 H940.8 V358.9 H829.1 Z"/></clipPath><path clip-path="url(#c28)" d="M825.8 345.9L811.2 360.9M837.3 345.9L822.7 360.9M848.8 345.9L834.2 360.9M860.3 345.9L845.7 360.9M871.8 345.9L857.2 360.9M883.3 345.9L868.7 360.9M894.8 345.9L880.2 360.9M906.3 345.9L891.7 360.9M917.8 345.9L903.2 360.9M929.3 345.9L914.7 360.9M940.8 345.9L926.2 360.9M952.3 345.9L937.7 360.9M963.8 345.9L949.2 360.9" fill="none" stroke="#111" stroke-width="1.15"/><clipPath id="c29"><path d="M875.3 187 L867 197.9 L875.3 197.9 Z"/></clipPath><path clip-path="url(#c29)" d="M857.1 185.0L842.7 199.9M868.6 185.0L854.2 199.9M880.1 185.0L865.7 199.9M891.6 185.0L877.2 199.9M903.1 185.0L888.7 199.9" fill="none" stroke="#111" stroke-width="1.15"/><path d="M823.4 186.1 H874.5 L866.2 197.2 H832.6 Z" fill="#fff" stroke="none"/><path d="M832.4 359.6 H865 L872.4 366.8 H825.6 Z" fill="#fff" stroke="none"/><path d="M822.8 186 L833 198 L829.3 198 L829.3 209 L822.8 209 Z" fill="#fff" stroke="none"/><clipPath id="c30"><path d="M822.8 186.6 L832 197.8 L826 201.6 L822.8 200.2 Z"/></clipPath><path clip-path="url(#c30)" d="M810.1 184.6L791.1 203.6M813.0 184.6L794.0 203.6M815.9 184.6L796.9 203.6M818.8 184.6L799.8 203.6M821.7 184.6L802.7 203.6M824.6 184.6L805.6 203.6M827.5 184.6L808.5 203.6M830.4 184.6L811.4 203.6M833.3 184.6L814.3 203.6M836.2 184.6L817.2 203.6M839.1 184.6L820.1 203.6M842.0 184.6L823.0 203.6M844.9 184.6L825.9 203.6M847.8 184.6L828.8 203.6M850.7 184.6L831.7 203.6M853.6 184.6L834.6 203.6M856.5 184.6L837.5 203.6M859.4 184.6L840.4 203.6M862.3 184.6L843.3 203.6" fill="none" stroke="#111" stroke-width="0.85"/><path d="M822.8 348.5 H829 V354.2 L832 358.9 L825.2 367.3 L822.8 367.3 Z" fill="#fff" stroke="none"/><clipPath id="c31"><path d="M822.8 354.2 L829 354.2 L832 358.9 L825.2 367.3 L822.8 367.3 Z"/></clipPath><path clip-path="url(#c31)" d="M809.6 352.2L809.6 369.3M811.9 352.2L811.9 369.3M814.2 352.2L814.2 369.3M816.5 352.2L816.5 369.3M818.8 352.2L818.8 369.3M821.1 352.2L821.1 369.3M823.4 352.2L823.4 369.3M825.7 352.2L825.7 369.3M828.0 352.2L828.0 369.3M830.3 352.2L830.3 369.3M832.6 352.2L832.6 369.3M834.9 352.2L834.9 369.3M837.2 352.2L837.2 369.3M839.5 352.2L839.5 369.3M841.8 352.2L841.8 369.3M844.1 352.2L844.1 369.3" fill="none" stroke="#111" stroke-width="0.85"/><path d="M865.5 358.9 L875.3 358.9 L875.3 367.3 L872.8 367.3 Z" fill="#fff" stroke="none"/><clipPath id="c32"><path d="M865.5 358.9 L875.3 358.9 L875.3 367.3 L872.8 367.3 Z"/></clipPath><path clip-path="url(#c32)" d="M852.4 356.9L840.0 369.3M855.3 356.9L842.9 369.3M858.2 356.9L845.8 369.3M861.1 356.9L848.7 369.3M864.0 356.9L851.6 369.3M866.9 356.9L854.5 369.3M869.8 356.9L857.4 369.3M872.7 356.9L860.3 369.3M875.6 356.9L863.2 369.3M878.5 356.9L866.1 369.3M881.4 356.9L869.0 369.3M884.3 356.9L871.9 369.3M887.2 356.9L874.8 369.3M890.1 356.9L877.7 369.3M893.0 356.9L880.6 369.3M895.9 356.9L883.5 369.3M898.8 356.9L886.4 369.3M901.7 356.9L889.3 369.3" fill="none" stroke="#111" stroke-width="0.85"/><path d="M707.40 192.00 L725.40 192.00 L725.40 198.00 A85.83 85.83 0 0 0 728.30 279.30 A82.47 82.47 0 0 0 725.80 358.90 L725.80 364.90 L707.40 364.90 Z" fill="#fff" stroke="none"/><path d="M725.40 198.00 A85.83 85.83 0 0 0 728.30 279.30 A73.16 73.16 0 0 0 725.40 198.00 Z" fill="#fff" stroke="none"/><path d="M728.30 279.30 A82.47 82.47 0 0 0 725.80 358.90 A67.28 67.28 0 0 0 728.30 279.30 Z" fill="#fff" stroke="none"/><clipPath id="c33"><path d="M725.40 198.00 A85.83 85.83 0 0 0 728.30 279.30 A73.16 73.16 0 0 0 725.40 198.00 Z"/></clipPath><path clip-path="url(#c33)" d="M716.7 196.0L614.3 281.3M729.4 196.0L627.0 281.3M742.1 196.0L639.7 281.3M754.8 196.0L652.4 281.3M767.5 196.0L665.1 281.3M780.2 196.0L677.8 281.3M792.9 196.0L690.5 281.3M805.6 196.0L703.2 281.3M818.3 196.0L715.9 281.3M831.0 196.0L728.6 281.3M843.7 196.0L741.3 281.3" fill="none" stroke="#111" stroke-width="1.15"/><clipPath id="c34"><path d="M728.30 279.30 A82.47 82.47 0 0 0 725.80 358.90 A67.28 67.28 0 0 0 728.30 279.30 Z"/></clipPath><path clip-path="url(#c34)" d="M720.7 277.3L620.4 360.9M733.4 277.3L633.1 360.9M746.1 277.3L645.8 360.9M758.8 277.3L658.5 360.9M771.5 277.3L671.2 360.9M784.2 277.3L683.9 360.9M796.9 277.3L696.6 360.9M809.6 277.3L709.3 360.9M822.3 277.3L722.0 360.9M835.0 277.3L734.7 360.9" fill="none" stroke="#111" stroke-width="1.15"/><path d="M814.40 102.30 H855.60 V133.00 H814.40 Z" fill="#fff" stroke="none"/><path d="M814.40 102.30 L814.40 90.70 Q814.40 86.20 818.90 86.20 L851.10 86.20 Q855.60 86.20 855.60 90.70 L855.60 102.30 Z" fill="#fff" stroke="none"/><clipPath id="c35"><path d="M814.40 102.30 L814.40 90.70 Q814.40 86.20 818.90 86.20 L851.10 86.20 Q855.60 86.20 855.60 90.70 L855.60 102.30 Z"/></clipPath><path clip-path="url(#c35)" d="M801.4 84.2L781.9 104.3M812.9 84.2L793.4 104.3M824.4 84.2L804.9 104.3M835.9 84.2L816.4 104.3M847.4 84.2L827.9 104.3M858.9 84.2L839.4 104.3M870.4 84.2L850.9 104.3M881.9 84.2L862.4 104.3" fill="none" stroke="#111" stroke-width="1.15"/><path d="M828.80 417.70 H868.20 V447.90 H828.80 Z" fill="#fff" stroke="none"/><path d="M828.80 447.90 L828.80 461.40 Q828.80 465.90 833.30 465.90 L863.70 465.90 Q868.20 465.90 868.20 461.40 L868.20 447.90 Z" fill="#fff" stroke="none"/><clipPath id="c36"><path d="M828.80 447.90 L828.80 461.40 Q828.80 465.90 833.30 465.90 L863.70 465.90 Q868.20 465.90 868.20 461.40 L868.20 447.90 Z"/></clipPath><path clip-path="url(#c36)" d="M817.7 445.9L796.3 467.9M829.2 445.9L807.8 467.9M840.7 445.9L819.3 467.9M852.2 445.9L830.8 467.9M863.7 445.9L842.3 467.9M875.2 445.9L853.8 467.9M886.7 445.9L865.3 467.9M898.2 445.9L876.8 467.9" fill="none" stroke="#111" stroke-width="1.15"/><path d="M725.4 198 L788 198 Q793.4 197.6 793.4 192 L793.4 178 Q793.4 171.6 800 170.3 L809 167.2 Q814.40 165 814.40 159.4 L814.40 90.70 Q814.40 86.20 818.90 86.20 L851.10 86.20 Q855.60 86.20 855.60 90.70 L855.60 161 Q855.80 165 859 166.8 L868 170.4 Q875.3 172.2 875.3 179 L875.3 185.4 L822.7 185.4" fill="none" stroke="#111" stroke-width="2.05" stroke-linejoin="round" stroke-linecap="round" /><path d="M725.8 358.9 L788.5 358.9 Q793.6 358.9 793.6 364 L793.6 378.5 Q793.6 385.5 801 385.5 L822.8 385.5 Q828.80 385.8 828.80 393 L828.80 461.40 Q828.80 465.90 833.30 465.90 L863.70 465.90 Q868.20 465.90 868.20 461.40 L868.20 391 Q868.20 389.2 870.3 388.6 L875.3 386.6 L875.3 367.5 L822.8 367.5" fill="none" stroke="#111" stroke-width="2.05" stroke-linejoin="round" stroke-linecap="round" /><path d="M735 209.2 H940.8 V197.9 H832" fill="none" stroke="#111" stroke-width="2.05" stroke-linejoin="round" stroke-linecap="round" /><path d="M735 347.9 H940.8 V358.9 H832" fill="none" stroke="#111" stroke-width="2.05" stroke-linejoin="round" stroke-linecap="round" /><path d="M822.8 186.6 L832 197.8 L826 201.6 L822.8 200.2 Z" fill="none" stroke="#111" stroke-width="2.05" stroke-linejoin="round" stroke-linecap="round" /><path d="M822.8 354.2 L829 354.2 L832 358.9 L825.2 367.3 L822.8 367.3 Z" fill="none" stroke="#111" stroke-width="1.20" stroke-linejoin="round" stroke-linecap="round" /><path d="M875.3 187 L867 197.9" fill="none" stroke="#111" stroke-width="2.05" stroke-linejoin="round" stroke-linecap="round" /><path d="M865.5 358.9 L872.8 367.3" fill="none" stroke="#111" stroke-width="2.05" stroke-linejoin="round" stroke-linecap="round" /><line x1="822.80" y1="185.40" x2="822.80" y2="367.50" stroke="#111" stroke-width="2.05" /><line x1="829.20" y1="199.80" x2="829.20" y2="354.20" stroke="#111" stroke-width="2.05" /><line x1="875.30" y1="179.00" x2="875.30" y2="386.60" stroke="#111" stroke-width="2.05" /><line x1="793.50" y1="209.20" x2="793.50" y2="347.90" stroke="#111" stroke-width="2.05" /><path d="M725.40 198.00 A85.83 85.83 0 0 0 728.30 279.30 A73.16 73.16 0 0 0 725.40 198.00 Z" fill="none" stroke="#111" stroke-width="2.05" stroke-linejoin="round" stroke-linecap="round" /><path d="M728.30 279.30 A82.47 82.47 0 0 0 725.80 358.90 A67.28 67.28 0 0 0 728.30 279.30 Z" fill="none" stroke="#111" stroke-width="2.05" stroke-linejoin="round" stroke-linecap="round" /><line x1="814.40" y1="102.30" x2="855.60" y2="102.30" stroke="#111" stroke-width="2.05" /><line x1="814.40" y1="133.00" x2="855.60" y2="133.00" stroke="#111" stroke-width="2.05" /><line x1="828.80" y1="417.70" x2="868.20" y2="417.70" stroke="#111" stroke-width="2.05" /><line x1="828.80" y1="447.90" x2="868.20" y2="447.90" stroke="#111" stroke-width="2.05" /><line x1="701.40" y1="279.30" x2="740.60" y2="279.30" stroke="#111" stroke-width="1.25" /><line x1="755.20" y1="279.30" x2="794.40" y2="279.30" stroke="#111" stroke-width="1.25" /><line x1="800.00" y1="279.30" x2="804.00" y2="279.30" stroke="#111" stroke-width="1.25" /><line x1="809.00" y1="279.30" x2="848.00" y2="279.30" stroke="#111" stroke-width="1.25" /><line x1="862.90" y1="279.30" x2="902.00" y2="279.30" stroke="#111" stroke-width="1.25" /><line x1="907.00" y1="279.30" x2="912.00" y2="279.30" stroke="#111" stroke-width="1.25" /><line x1="915.70" y1="279.30" x2="920.60" y2="279.30" stroke="#111" stroke-width="1.25" /><circle cx="747.70" cy="279.30" r="1.8" fill="#111"/><circle cx="855.40" cy="279.30" r="1.8" fill="#111"/><line x1="804.60" y1="117.60" x2="829.00" y2="117.60" stroke="#111" stroke-width="1.10" /><line x1="832.70" y1="117.60" x2="837.20" y2="117.60" stroke="#111" stroke-width="1.10" /><line x1="841.00" y1="117.60" x2="865.00" y2="117.60" stroke="#111" stroke-width="1.10" /><line x1="817.60" y1="432.90" x2="842.50" y2="432.90" stroke="#111" stroke-width="1.10" /><line x1="846.30" y1="432.90" x2="850.80" y2="432.90" stroke="#111" stroke-width="1.10" /><line x1="855.00" y1="432.90" x2="879.00" y2="432.90" stroke="#111" stroke-width="1.10" /><line x1="945.80" y1="198.20" x2="979.80" y2="198.20" stroke="#111" stroke-width="1.30" /><line x1="945.80" y1="358.80" x2="979.80" y2="358.80" stroke="#111" stroke-width="1.30" /><line x1="939.80" y1="211.40" x2="939.80" y2="345.70" stroke="#111" stroke-width="1.30" /><path d="M939.80 209.40 L942.60 220.90 L937.00 220.90 Z" fill="#111"/><path d="M939.80 347.70 L937.00 336.20 L942.60 336.20 Z" fill="#111"/><line x1="974.00" y1="200.20" x2="974.00" y2="356.60" stroke="#111" stroke-width="1.30" /><path d="M974.00 198.20 L976.80 209.70 L971.20 209.70 Z" fill="#111"/><path d="M974.00 358.60 L971.20 347.10 L976.80 347.10 Z" fill="#111"/><text x="0.00" y="0.00" font-size="13.60" fill="#1c1c1c" stroke="#1c1c1c" stroke-width="0.5" textLength="36.9" lengthAdjust="spacingAndGlyphs" transform="translate(934.4 296) rotate(-90)">BORE</text><text x="0.00" y="0.00" font-size="13.60" fill="#1c1c1c" stroke="#1c1c1c" stroke-width="0.5" textLength="36.9" lengthAdjust="spacingAndGlyphs" transform="translate(968.8 296.5) rotate(-90)">BORE</text><text x="889.40" y="38.10" font-size="15.20" fill="#1c1c1c" stroke="#1c1c1c" stroke-width="0.5"  textLength="80.0" lengthAdjust="spacingAndGlyphs">BOLT HOLE</text><text x="889.40" y="57.10" font-size="15.20" fill="#1c1c1c" stroke="#1c1c1c" stroke-width="0.5"  textLength="47.0" lengthAdjust="spacingAndGlyphs">(6x &#216;d)</text><text x="900.80" y="85.40" font-size="15.20" fill="#1c1c1c" stroke="#1c1c1c" stroke-width="0.5"  textLength="98.4" lengthAdjust="spacingAndGlyphs">FLANGE FACE</text><text x="900.80" y="104.50" font-size="15.20" fill="#1c1c1c" stroke="#1c1c1c" stroke-width="0.5"  textLength="26.0" lengthAdjust="spacingAndGlyphs">(RF)</text><text x="906.30" y="130.60" font-size="15.20" fill="#1c1c1c" stroke="#1c1c1c" stroke-width="0.5"  textLength="100.8" lengthAdjust="spacingAndGlyphs">GASKET AREA</text><text x="933.60" y="168.30" font-size="15.20" fill="#1c1c1c" stroke="#1c1c1c" stroke-width="0.5"  textLength="32.1" lengthAdjust="spacingAndGlyphs">PIPE</text><text x="923.90" y="401.00" font-size="15.20" fill="#1c1c1c" stroke="#1c1c1c" stroke-width="0.5"  textLength="40.4" lengthAdjust="spacingAndGlyphs">BORE</text><path d="M884.00 32.30 L875.60 32.30 L842.00 101.40" fill="none" stroke="#111" stroke-width="1.30" stroke-linejoin="round"/><path d="M842.00 101.40 L844.07 90.73 L849.11 93.18 Z" fill="#111"/><path d="M896.40 80.50 L888.60 80.50 L858.40 165.00" fill="none" stroke="#111" stroke-width="1.30" stroke-linejoin="round"/><path d="M858.40 165.00 L859.30 154.17 L864.57 156.05 Z" fill="#111"/><path d="M902.70 125.60 L893.30 125.60 L874.80 169.90" fill="none" stroke="#111" stroke-width="1.30" stroke-linejoin="round"/><path d="M874.80 169.90 L876.26 159.13 L881.43 161.29 Z" fill="#111"/><path d="M929.30 163.40 L920.50 163.40 L905.70 196.60" fill="none" stroke="#111" stroke-width="1.30" stroke-linejoin="round"/><path d="M905.70 196.60 L907.42 185.87 L912.53 188.15 Z" fill="#111"/><path d="M919.40 395.80 L911.00 395.80 L876.30 361.00" fill="none" stroke="#111" stroke-width="1.30" stroke-linejoin="round"/><path d="M876.30 361.00 L885.70 366.46 L881.73 370.41 Z" fill="#111"/><text x="704.00" y="527.30" font-size="18.40" fill="#222" stroke="#222" stroke-width="0.5" textLength="290.7" lengthAdjust="spacingAndGlyphs">(c) SOCKET WELD FLANGE (S-<tspan fill="#8a8a8a" stroke="#8a8a8a">W</tspan><tspan fill="#777" stroke="#777">)</tspan></text></svg>
</body></html>
